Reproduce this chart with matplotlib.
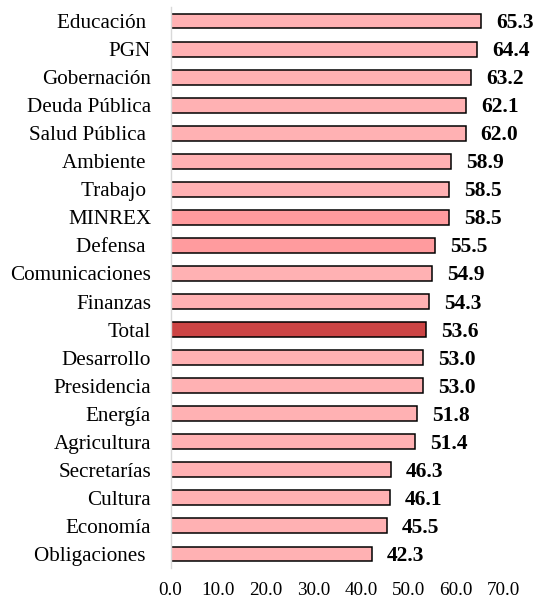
import matplotlib.pyplot as plt
import numpy as np

plt.rc("font", family=["Liberation Serif", "DejaVu Serif"])

# categories top to bottom
labels = ["Educación ", "PGN", "Gobernación", "Deuda Pública", "Salud Pública ",
          "Ambiente ", "Trabajo ", "MINREX", "Defensa ", "Comunicaciones",
          "Finanzas", "Total", "Desarrollo", "Presidencia", "Energía",
          "Agricultura", "Secretarías", "Cultura", "Economía", "Obligaciones "]
values = [65.3, 64.4, 63.2, 62.1, 62.0, 58.9, 58.5, 58.5, 55.5, 54.9,
          54.3, 53.6, 53.0, 53.0, 51.8, 51.4, 46.3, 46.1, 45.5, 42.3]
xticks = [0, 10, 20, 30, 40, 50, 60, 70]

colors = []
for lab in labels:
    if lab.strip() == "Total":
        colors.append("#CC4444")
    elif lab.strip() in ("MINREX", "Defensa"):
        colors.append("#FF9B9E")
    else:
        colors.append("#FFB1B3")

fig = plt.figure(figsize=(5.35, 5.98), dpi=100)
ax = fig.add_axes([0.3187, 0.0502, 0.6228, 0.9381])

y = np.arange(len(labels))
ax.barh(y, values, height=0.53, color=colors, edgecolor="black", linewidth=1.1)

for yi, v in zip(y, values):
    ax.annotate(f"{v:.1f}", (v, yi), xytext=(15, -2), textcoords="offset pixels",
                va="center", ha="left", fontsize=15.5, fontweight="bold")

ax.set_ylim(len(labels) - 0.5, -0.5)
ax.set_xlim(0, 70)
ax.set_yticks(y)
ax.set_yticklabels(labels, fontsize=15.2)
ax.set_xticks(xticks)
ax.set_xticklabels([f"{t:.1f}" for t in xticks], fontsize=13.8)
ax.tick_params(axis="y", length=0, pad=14)
ax.tick_params(axis="x", length=0, pad=10)

for s in ["top", "right", "bottom"]:
    ax.spines[s].set_visible(False)
ax.spines["left"].set_color("#D9D9D9")
ax.spines["left"].set_linewidth(1.0)

fig.savefig("out.png", dpi=100)
